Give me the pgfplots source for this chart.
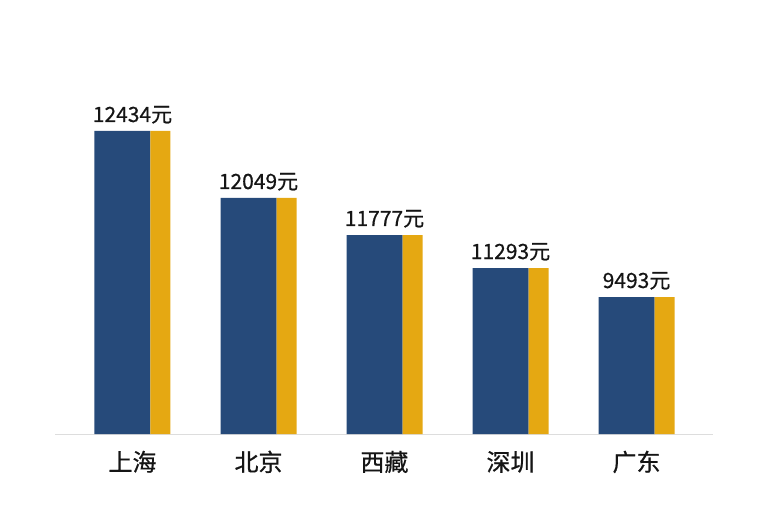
\documentclass[border=0pt]{standalone}
\usepackage{pgfplots}
\pgfplotsset{compat=1.18}
\usepackage{pgfplotstable}
\usepackage{fontspec}
\setmainfont{Noto Sans CJK SC}
\newfontfamily\lbl{Noto Sans CJK SC}[FakeBold=0.6]
\definecolor{barblue}{HTML}{264A7A}
\definecolor{baryellow}{HTML}{E5A812}
\definecolor{basegray}{HTML}{DDDDDD}
\definecolor{txt}{HTML}{151515}

% h = bar height as drawn (px), v = value printed above the bar
\pgfplotstableread{
x h v
0 303 12434
1 236 12049
2 199 11777
3 166 11293
4 137 9493
}\data

\begin{document}
\begin{tikzpicture}[x=1pt,y=1pt]
\useasboundingbox (0,0) rectangle (768,512);
\begin{axis}[
    at={(55pt,78pt)}, anchor=south west,
    scale only axis, width=658pt, height=400pt,
    xmin=-0.615, xmax=4.607, ymin=0, ymax=400,
    ybar,
    axis x line*=bottom, axis y line=none,
    axis line style={draw=basegray, line width=1pt},
    xtick=data, ytick=\empty, major tick length=0pt,
    xticklabels={上海,北京,西藏,深圳,广东},
    xticklabel style={font=\lbl\fontsize{24}{27}\selectfont, text=txt, anchor=base, yshift=-37pt},
    clip=false,
]
\addplot[fill=barblue, draw=none, bar width=56pt, bar shift=-10pt,
    point meta=explicit symbolic,
    nodes near coords={\pgfplotspointmeta 元},
    every node near coord/.append style={font=\lbl\fontsize{21}{24}\selectfont, text=txt, anchor=base, xshift=10pt, yshift=9pt}]
    table[x=x, y=h, meta=v] {\data};
\addplot[fill=baryellow, draw=none, bar width=20pt, bar shift=28pt]
    table[x=x, y=h] {\data};
\end{axis}
\end{tikzpicture}
\end{document}
